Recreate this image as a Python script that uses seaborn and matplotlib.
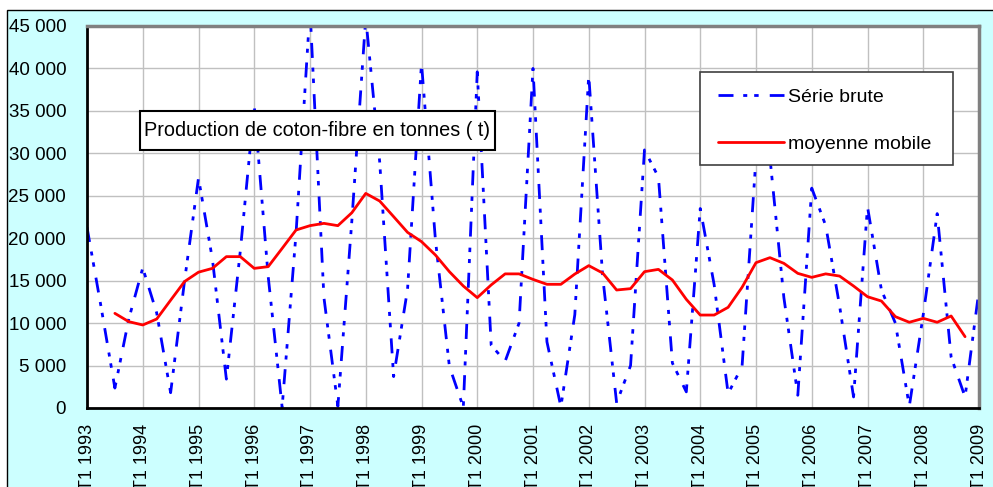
import matplotlib
matplotlib.use("Agg")
import matplotlib.pyplot as plt
from matplotlib.patches import Rectangle
from matplotlib.ticker import FuncFormatter, MultipleLocator
import seaborn as sns
import numpy as np
import pandas as pd

# Données trimestrielles 1993 T1 -> 2009 T1
annees = list(range(1993, 2010))
serie_brute = [
    21300, 12000, 2350, 10500,   # 1993
    16500, 11200, 1800, 15000,   # 1994
    27100, 17500, 3400, 18500,   # 1995
    35600, 15500, 100, 20600,    # 1996
    47000, 13000, 200, 22000,    # 1997
    46000, 29000, 3700, 14000,   # 1998
    40600, 19800, 4900, 100,     # 1999
    39600, 7400, 5500, 10000,    # 2000
    40000, 7800, 150, 11000,     # 2001
    39200, 15500, 600, 5000,     # 2002
    30400, 27200, 5300, 1900,    # 2003
    23500, 14500, 1700, 4900,    # 2004
    29500, 29500, 13000, 1500,   # 2005
    25900, 21500, 12000, 1300,   # 2006
    23700, 13900, 10000, 200,    # 2007
    11000, 22900, 6000, 1300,    # 2008
    13900,                       # 2009
]
# moyenne mobile, du 3e trimestre 1993 au 4e trimestre 2008
moyenne_mobile = [
    11150, 10170, 9780, 10480, 12700, 14900, 16000, 16450, 17830, 17830,
    16450, 16650, 18800, 20970, 21480, 21750, 21480, 23000, 25280, 24380,
    22540, 20690, 19600, 18020, 16060, 14370, 13000, 14500, 15800, 15800,
    15150, 14570, 14570, 15780, 16770, 15900, 13900, 14060, 16060, 16330,
    15080, 12800, 10950, 10950, 11860, 14220, 17120, 17710, 17040, 15860,
    15390, 15800, 15540, 14370, 13110, 12600, 10760, 10100, 10560, 10100,
    10840, 8400,
]

sns.set_theme(style="white")
plt.rcParams["font.family"] = ["Liberation Sans", "DejaVu Sans"]
plt.rcParams["lines.scale_dashes"] = False
plt.rcParams["text.color"] = "black"
plt.rcParams["xtick.color"] = "black"
plt.rcParams["ytick.color"] = "black"

n = len(serie_brute)
df = pd.DataFrame({"t": np.arange(n), "brute": serie_brute})
df["mm"] = np.nan
df.loc[2:2 + len(moyenne_mobile) - 1, "mm"] = moyenne_mobile

W, H = 993, 487
fig = plt.figure(figsize=(W / 100, H / 100), dpi=100, facecolor="white")


def px_box(x0, y0, x1, y1, **kw):
    """Rectangle en pixels (origine en haut à gauche) -> coordonnées figure."""
    return Rectangle((x0 / W, 1 - y1 / H), (x1 - x0) / W, (y1 - y0) / H,
                     transform=fig.transFigure, **kw)


# fond cyan du graphique (derrière les axes)
fig.patches.append(Rectangle((7 / W, -0.1), 1.2, 1 - 10 / H + 0.1,
                             transform=fig.transFigure, facecolor="#CCFFFF",
                             edgecolor="black", linewidth=1, zorder=-1))

ax = fig.add_axes([87 / W, (H - 408) / H, 892 / W, 382 / H])
ax.set_facecolor("white")

sns.lineplot(data=df, x="t", y="brute", ax=ax, color="#0000FF", linewidth=2,
             linestyle=(0, (10.8, 7, 2.9, 5, 3.2, 8)), label="Série brute")
sns.lineplot(data=df, x="t", y="mm", ax=ax, color="#FF0000", linewidth=2,
             label="moyenne mobile")

ax.set_xlim(0, n - 1)
ax.set_ylim(0, 45000)
ax.set_xlabel("")
ax.set_ylabel("")

ax.set_xticks(range(0, n, 4))
ax.set_xticklabels([f"T1 {a}" for a in annees], rotation=90, fontsize=13,
                   va="top")
ax.yaxis.set_major_locator(MultipleLocator(5000))
ax.yaxis.set_major_formatter(FuncFormatter(lambda v, p: f"{v:,.0f}".replace(",", " ")))
ax.tick_params(axis="y", labelsize=13.5, length=5, width=1.5, pad=10, color="black")
ax.tick_params(axis="x", length=5, width=1.5, pad=6.5, color="black")

ax.grid(True, color="#C0C0C0", linewidth=1)
for s in ["left", "bottom"]:
    ax.spines[s].set_color("black")
    ax.spines[s].set_linewidth(2)
for s in ["top", "right"]:
    ax.spines[s].set_color("#808080")
    ax.spines[s].set_linewidth(2.5)

# cadre de la légende dessiné à part, légende sans cadre par-dessus
fig.patches.append(px_box(700, 72, 953, 165, facecolor="white",
                          edgecolor="#404040", linewidth=1.2, zorder=4))
leg = ax.legend(loc="upper left", bbox_to_anchor=(718 / W, 1 - 88 / H),
                bbox_transform=fig.transFigure, fontsize=14, frameon=False,
                handlelength=3.4, handletextpad=0.2, labelspacing=1.52,
                borderpad=0, borderaxespad=0)
leg.remove()
fig.legends.append(leg)
leg.set_zorder(6)

# encadré du titre
fig.patches.append(px_box(140, 111, 495, 150, facecolor="white",
                          edgecolor="black", linewidth=1.5, zorder=4))
fig.text(317.5 / W, 1 - 131 / H, "Production de coton-fibre en tonnes ( t)",
         ha="center", va="center", fontsize=14.3, zorder=6)

fig.savefig("out.png", dpi=100)
plt.close(fig)
